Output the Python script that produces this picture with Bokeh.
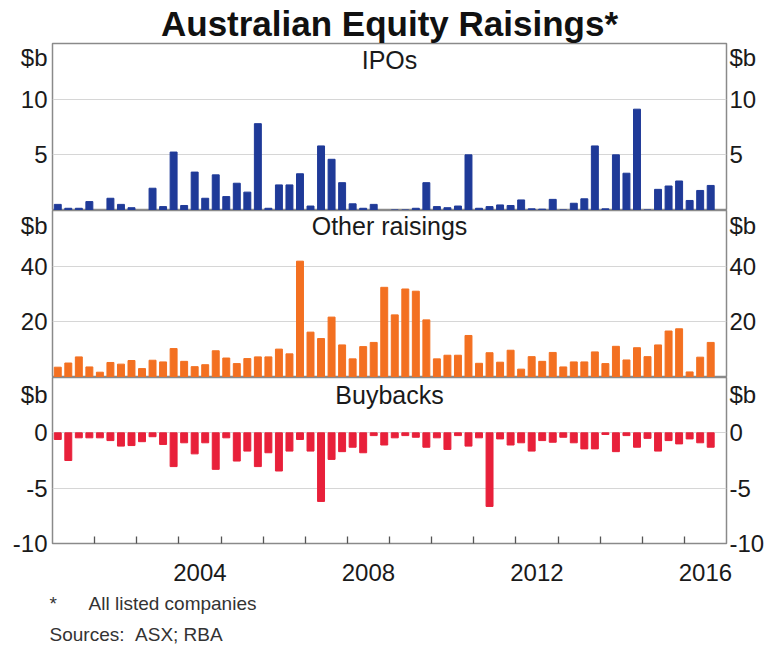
from bokeh.plotting import figure
from bokeh.models import Range1d, FixedTicker, LinearAxis, Label, Title, ColumnDataSource
from bokeh.layouts import column
from bokeh.embed import file_html
from bokeh.resources import INLINE

# ---------------- data (quarterly, $b) ----------------
start_year = 2001
ipos = [0.55, 0.2, 0.2, 0.8, 0.0, 1.1, 0.55, 0.25, 0.0, 2.0, 0.35, 5.25, 0.45, 3.45, 1.1, 3.2,
        1.25, 2.45, 1.65, 7.8, 0.2, 2.3, 2.3, 3.3, 0.4, 5.8, 4.6, 2.5, 0.6, 0.2, 0.55, 0.0,
        0.05, 0.05, 0.2, 2.5, 0.35, 0.25, 0.4, 5.0, 0.2, 0.35, 0.5, 0.45, 0.95, 0.15, 0.12, 1.0,
        0.05, 0.65, 1.05, 5.8, 0.15, 5.0, 3.35, 9.1, 0.05, 1.9, 2.2, 2.65, 0.9, 1.8, 2.25]
other_raisings = [3.7, 5.2, 7.4, 3.8, 1.9, 5.4, 4.8, 6.1, 3.2, 6.2, 5.6, 10.4, 5.8, 3.9, 4.6, 9.6,
                  7.0, 5.0, 6.8, 7.4, 7.4, 10.2, 8.5, 41.8, 16.3, 14.0, 21.7, 11.7, 6.7, 11.1, 12.6, 32.4,
                  22.5, 31.8, 31.0, 20.7, 6.7, 8.0, 8.0, 15.1, 5.1, 8.9, 5.5, 9.8, 3.0, 7.5, 5.8, 9.0,
                  3.8, 5.6, 5.6, 9.2, 5.0, 11.2, 6.3, 10.7, 7.5, 11.7, 16.7, 17.5, 2.0, 7.3, 12.6]
buybacks = [-0.6, -2.5, -0.45, -0.45, -0.45, -0.7, -1.2, -1.15, -0.8, -0.35, -1.05, -3.05, -0.9, -1.9, -0.9, -3.3,
            -0.45, -2.55, -1.65, -3.05, -1.8, -3.45, -1.65, -0.6, -1.65, -6.2, -2.4, -1.7, -1.3, -1.8, -0.25, -1.1,
            -0.45, -0.25, -0.4, -1.3, -0.45, -1.5, -0.25, -1.2, -0.45, -6.65, -0.55, -1.1, -0.9, -1.65, -0.7, -0.85,
            -0.4, -0.9, -1.45, -1.45, -0.15, -1.7, -0.25, -1.3, -0.5, -1.65, -0.7, -1.0, -0.55, -0.9, -1.3]
year_labels = ["2004", "2008", "2012", "2016"]
year_bounds = list(range(2002, 2017))

x = [start_year + (i + 0.5) / 4 for i in range(len(ipos))]
src = ColumnDataSource(dict(x=x, ipos=ipos, other=other_raisings, buy=buybacks,
                            zero=[0] * len(ipos)))

FONT = "Liberation Sans"
TXT = "#1a1a1a"
BORDER_L, BORDER_R, FRAME_W = 52, 40, 674
X0, X1 = 2001, 2017
TICK_FS = "24px"


def panel(ymin, ymax, grid_ticks, label_ticks, overrides, title, title_y, fh, bottom_axis=False):
    p = figure(frame_width=FRAME_W, frame_height=fh, output_backend="svg", toolbar_location=None,
               x_range=Range1d(X0, X1), y_range=Range1d(ymin, ymax),
               x_axis_location="below" if bottom_axis else None,
               min_border_left=BORDER_L, min_border_right=BORDER_R,
               min_border_top=0, min_border_bottom=0)
    p.outline_line_color = "#8a8a8a"
    p.outline_line_width = 1.5
    p.xgrid.visible = False
    p.ygrid.ticker = FixedTicker(ticks=grid_ticks)
    p.ygrid.grid_line_color = "#d6d6d6"
    p.ygrid.grid_line_width = 1.2
    p.yaxis.ticker = FixedTicker(ticks=label_ticks)
    p.yaxis.major_label_overrides = overrides
    ax_r = LinearAxis(ticker=FixedTicker(ticks=label_ticks), major_label_overrides=overrides)
    p.add_layout(ax_r, "right")
    for ax in (p.yaxis[0], ax_r):
        ax.axis_line_color = None
        ax.major_tick_line_color = None
        ax.minor_tick_line_color = None
        ax.major_tick_in = 0
        ax.major_tick_out = 0
        ax.minor_tick_out = 0
        ax.major_label_text_font = FONT
        ax.major_label_text_font_size = TICK_FS
        ax.major_label_text_color = TXT
    p.yaxis[0].major_label_standoff = 5
    ax_r.major_label_standoff = 3
    p.add_layout(Label(x=(X0 + X1) / 2, y=title_y, text=title, text_align="center",
                       text_baseline="middle", text_font=FONT, text_font_size="25px",
                       text_color=TXT))
    return p


p1 = panel(0, 15, [5, 10], [5, 10, 13.7], {5: "5", 10: "10", 13.7: "$b"}, "IPOs", 13.5, 167)
p1.title.text = "Australian Equity Raisings*"
p1.title.align = "center"
p1.title.text_font = FONT
p1.title.text_font_size = "35px"
p1.title.text_font_style = "bold"
p1.title.text_color = "#111111"
p1.title.standoff = 2
p1.vbar(x="x", width=0.165, bottom="zero", top="ipos", source=src, color="#1f3a98")

p2 = panel(0, 60, [20, 40], [20, 40, 54.6], {20: "20", 40: "40", 54.6: "$b"}, "Other raisings", 54.3, 167)
p2.vbar(x="x", width=0.165, bottom="zero", top="other", source=src, color="#f37021")

p3 = panel(-10, 5, [0, -5], [-10, -5, 0, 3.5], {-10: "-10", -5: "-5", 0: "0", 3.5: "$b"}, "Buybacks", 3.4, 166,
           bottom_axis=True)
p3.vbar(x="x", width=0.165, bottom="buy", top="zero", source=src, color="#e8203a")
xa = p3.xaxis[0]
mids = [int(y) + 0.5 for y in year_labels]
xa.ticker = FixedTicker(ticks=mids, minor_ticks=year_bounds)
xa.major_label_overrides = {m: lab for m, lab in zip(mids, year_labels)}
xa.axis_line_color = None
xa.major_tick_line_color = None
xa.major_tick_in = 0
xa.major_tick_out = 0
xa.minor_tick_in = 7
xa.minor_tick_out = 0
xa.minor_tick_line_color = "#555555"
xa.minor_tick_line_width = 1.3
xa.major_label_text_font = FONT
xa.major_label_text_font_size = TICK_FS
xa.major_label_text_color = TXT
xa.major_label_standoff = 20

nb = "\u00a0"
f1 = Title(text="*" + nb * 6 + "All listed companies", align="left", text_font=FONT,
           text_font_size="19px", text_font_style="normal", text_color="#333333", standoff=15,
           offset=-3)
f2 = Title(text="Sources:" + nb * 2 + "ASX; RBA", align="left", text_font=FONT,
           text_font_size="19px", text_font_style="normal", text_color="#333333", standoff=0,
           offset=-3)
p3.add_layout(f1, "below")
p3.add_layout(f2, "below")

layout = column(p1, p2, p3, spacing=0)
open("out.html", "w").write(file_html(layout, INLINE))
